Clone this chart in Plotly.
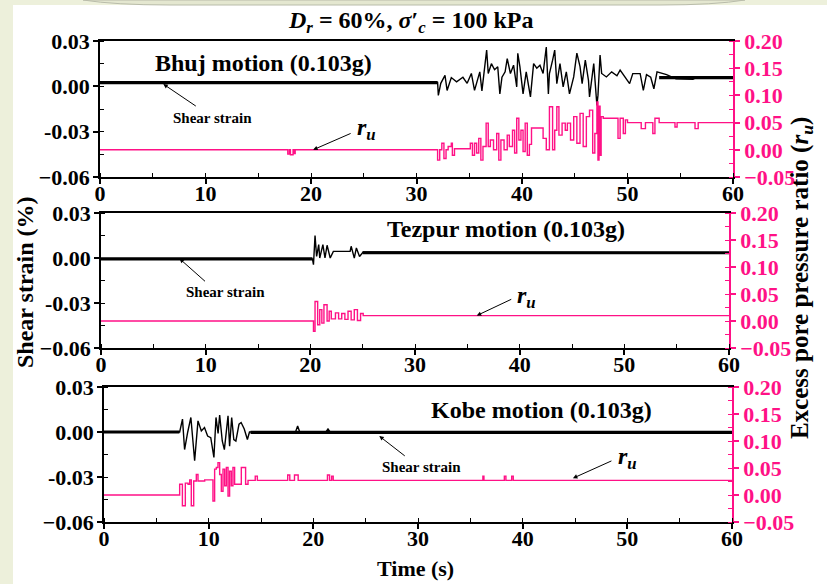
import plotly.graph_objects as go

# ---------------- data ----------------
# Bhuj motion: shear strain (%) and excess pore pressure ratio r_u vs time (s)
bhuj_strain_t = [0, 32.0, 32.07, 32.3, 32.7, 32.9, 33.3, 33.8, 34.4, 34.8, 35.2, 35.5, 36.0, 36.2,
                 36.65, 36.8, 37.1, 37.4, 37.7, 37.9, 38.1, 38.4, 38.6, 38.9, 39.2, 39.5, 39.6,
                 39.8, 40.1, 40.4, 40.8, 41.1, 41.4, 41.7, 42.0, 42.3, 42.5, 42.6, 42.9, 43.1,
                 43.3, 43.6, 43.9, 44.2, 44.5, 44.9, 45.2, 45.5, 45.7, 46.0, 46.3, 46.4, 46.8,
                 47.1, 47.2, 47.4, 47.55, 48.0, 48.5, 49.0, 49.3, 49.9, 50.2, 50.5, 51.2, 51.5,
                 51.8, 52.2, 52.5, 52.8, 53.7, 54.6, 56.2, 56.5, 60.0]
bhuj_strain_v = [0.0025, 0.0025, -0.006, 0.002, 0.0073, -0.0027, 0.0058, 0.003, 0.006, 0.002,
                 0.0085, -0.0027, 0.0096, -0.003, 0.024, 0.0085, 0.015, 0.011, 0.013, -0.005,
                 0.006, 0.0096, 0.0184, 0.0085, 0.014, -0.0004, 0.0218, 0.013, -0.005, 0.0096,
                 -0.007, 0.015, 0.012, 0.014, 0.0085, 0.026, -0.005, 0.0085, 0.0173, 0.024,
                 0.0018, 0.015, -0.0004, 0.0096, -0.005, 0.0062, 0.022, 0.013, 0.0018, 0.0173,
                 0.004, -0.007, 0.015, -0.0127, -0.006, 0.0207, 0.0085, 0.0062, 0.0096, 0.007,
                 0.0107, 0.005, 0.0018, 0.0084, 0.0084, -0.0027, 0.0078, 0.006, -0.0016, 0.0096,
                 0.0078, 0.005, 0.0047, 0.0058, 0.0058]
bhuj_quiet_t = [0, 32.0, None, 53.0, 60.0]
bhuj_quiet_v = [0.0025, 0.0025, None, 0.0058, 0.0058]

bhuj_ru_t = [0, 17.8, 17.95, 18.05, 18.3, 18.4, 18.5, 32.0, 32.2, 32.4, 32.6, 32.8, 33.0, 33.3,
             33.4, 33.6, 35.1, 35.3, 35.5, 35.7, 35.9, 36.1, 36.3, 36.6, 36.8, 37.0, 37.3, 37.6,
             37.8, 38.0, 38.3, 38.6, 38.8, 39.1, 39.3, 39.5, 39.7, 39.9, 40.1, 40.3, 40.5, 40.7,
             40.9, 42.0, 42.3, 42.6, 42.9, 43.1, 43.3, 43.5, 43.8, 44.1, 44.3, 44.6, 44.9, 45.2,
             45.5, 45.8, 46.1, 46.4, 46.7, 46.9, 47.1, 47.2, 47.3, 47.4, 47.5, 47.7, 49.1, 49.3,
             49.6, 49.8, 50.0, 51.3, 51.7, 52.4, 52.6, 53.0, 54.5, 54.7, 56.4, 56.7, 60.0]
bhuj_ru_v = [0.0, -0.008, 0.0, -0.009, 0.0, -0.007, 0.0, -0.019, 0.0, 0.012, -0.016, 0.0, 0.006,
             0.012, -0.01, 0.002, 0.012, -0.010, 0.012, -0.006, 0.021, -0.019, 0.006, 0.049,
             0.006, 0.018, 0.0, 0.030, -0.019, 0.018, 0.0, 0.027, 0.006, 0.036, -0.006, 0.058,
             0.018, 0.036, -0.003, 0.049, -0.01, 0.010, 0.040, 0.021, 0.0, 0.079, 0.0, 0.036,
             0.079, 0.027, 0.049, 0.036, 0.049, 0.018, 0.061, 0.012, 0.067, 0.006, 0.061, 0.073,
             -0.006, 0.030, 0.088, -0.019, 0.080, -0.01, 0.061, 0.058, 0.021, 0.058, 0.030,
             0.055, 0.05, 0.039, 0.05, 0.030, 0.058, 0.05, 0.042, 0.05, 0.039, 0.05, 0.05]

# Tezpur motion
tez_strain_t = [0, 20.2, 20.3, 20.45, 20.6, 20.8, 20.9, 21.2, 21.4, 21.6, 21.9, 22.2, 23.8, 23.9,
                24.2, 24.4, 24.7, 25.05, 60.0]
tez_strain_v = [-0.0006, -0.0006, -0.0045, 0.0149, 0.001, 0.0089, 0.0, 0.0089, 0.0, 0.0085, 0.0,
                0.0044, 0.0044, 0.0078, 0.0, 0.0067, 0.001, 0.004, 0.0035]
tez_quiet_t = [0, 20.2, None, 25.0, 60.0]
tez_quiet_v = [-0.0006, -0.0006, None, 0.0035, 0.0035]

tez_ru_t = [0, 20.3, 20.45, 20.7, 20.9, 21.1, 21.3, 21.6, 21.8, 22.0, 22.4, 22.7, 23.0, 23.3, 23.6,
            23.9, 24.2, 24.5, 24.8, 25.05, 60.0]
tez_ru_v = [0.0, -0.019, 0.036, -0.007, 0.021, -0.004, 0.030, 0.0, 0.018, 0.004, 0.015, 0.004,
            0.014, 0.003, 0.018, 0.002, 0.021, 0.001, 0.014, 0.010, 0.010]

# Kobe motion
kobe_strain_t = [0, 7.23, 7.5, 7.7, 8.0, 8.3, 8.66, 8.98, 9.3, 9.6, 9.9, 10.2, 10.5, 10.7, 10.9,
                 11.05, 11.3, 11.5, 11.85, 12.0, 12.2, 12.4, 12.6, 12.9, 13.1, 13.4, 13.7, 13.9,
                 18.3, 18.5, 18.7, 21.2, 21.4, 21.6, 60.0]
kobe_strain_v = [0.0, 0.0, 0.0086, -0.0117, 0.0, 0.0097, -0.0192, 0.0074, 0.0007, 0.003, -0.0027,
                 -0.0038, -0.0169, 0.0097, -0.001, 0.0113, -0.006, -0.0117, 0.0108, -0.0095,
                 0.0097, -0.005, -0.006, 0.0052, 0.0063, 0.002, -0.005, 0.0, 0.0, 0.004, 0.0,
                 0.0, 0.002, 0.0, -0.0003]
kobe_quiet_t = [0, 7.2, None, 14.0, 60.0]
kobe_quiet_v = [0.0, 0.0, None, -0.0003, -0.0003]

kobe_ru_t = [0, 7.23, 7.49, 7.77, 8.03, 8.19, 8.34, 8.57, 8.82, 8.98, 9.62, 10.41, 10.57, 10.73,
             10.89, 11.05, 11.21, 11.37, 11.53, 11.69, 11.85, 12.0, 12.16, 12.32, 12.48, 13.12,
             13.53, 13.76, 14.45, 14.65, 17.55, 17.75, 18.2, 18.55, 21.35, 21.55, 21.75, 21.9,
             36.2, 36.3, 38.25, 38.4, 38.95, 39.1, 60.0]
kobe_ru_v = [0.0, 0.020, -0.020, 0.022, 0.020, 0.028, -0.020, 0.026, 0.038, 0.026, 0.028, -0.011,
             0.048, 0.051, 0.060, 0.038, 0.007, 0.048, 0.017, 0.051, -0.002, 0.044, 0.017, 0.051,
             0.020, 0.051, 0.020, 0.027, 0.035, 0.027, 0.037, 0.027, 0.037, 0.027, 0.037, 0.027,
             0.035, 0.027, 0.035, 0.027, 0.035, 0.027, 0.035, 0.027, 0.027]

motion_names = ["Bhuj motion (0.103g)", "Tezpur motion (0.103g)", "Kobe motion (0.103g)"]
time_ticks = [0, 10, 20, 30, 40, 50, 60]
strain_ticks = [-0.06, -0.03, 0.0, 0.03]
strain_ticktext = ["\u22120.06", "-0.03", "0.00", "0.03"]
ru_ticks = [-0.05, 0.0, 0.05, 0.10, 0.15, 0.20]
ru_ticktext = ["\u22120.05", "0.00", "0.05", "0.10", "0.15", "0.20"]

# ---------------- styling ----------------
W, H = 827, 584
PINK = "#FF1186"
FONT = "Liberation Serif"
TICKFONT = dict(family=FONT, size=22, color="black")


def bold(labels):
    return [f"<b>{s}</b>" for s in labels]


# panel frames in pixels: (left, right, top, bottom)
frames = [(100, 733, 41, 177), (101, 729, 213, 348), (104, 732, 387, 522)]


def px_domain_x(a, b):
    return [a / W, b / W]


def px_domain_y(top, bottom):
    return [1 - bottom / H, 1 - top / H]


fig = go.Figure()
layout = dict(
    width=W, height=H, margin=dict(l=0, r=0, t=0, b=0, autoexpand=False),
    paper_bgcolor="white", plot_bgcolor="white", showlegend=False,
    font=dict(family=FONT, color="black"),
)

panels = [
    (bhuj_strain_t, bhuj_strain_v, bhuj_quiet_t, bhuj_quiet_v, bhuj_ru_t, bhuj_ru_v),
    (tez_strain_t, tez_strain_v, tez_quiet_t, tez_quiet_v, tez_ru_t, tez_ru_v),
    (kobe_strain_t, kobe_strain_v, kobe_quiet_t, kobe_quiet_v, kobe_ru_t, kobe_ru_v),
]

for i, (st, sv, qt, qv, rt, rv) in enumerate(panels):
    xn = "x" if i == 0 else f"x{i + 1}"
    yl = "y" if i == 0 else f"y{2 * i + 1}"
    yr = f"y{2 * i + 2}"
    left, right, top, bottom = frames[i]

    layout["xaxis" if i == 0 else f"xaxis{i + 1}"] = dict(
        domain=px_domain_x(left, right), anchor=yl, range=[0, 60], automargin=False,
        tickmode="array", tickvals=time_ticks, ticktext=bold([str(v) for v in time_ticks]),
        ticks="outside", ticklen=5, tickwidth=1.5, ticklabelstandoff=-9,
        tickcolor="black", showline=True, linecolor="black", linewidth=1.5, mirror=True,
        showgrid=False, zeroline=False, tickfont=TICKFONT,
        minor=dict(dtick=5, tick0=0, ticks="inside", ticklen=4, tickwidth=1.2, tickcolor="black"),
    )
    layout["yaxis" if i == 0 else f"yaxis{2 * i + 1}"] = dict(
        domain=px_domain_y(top, bottom), anchor=xn, range=[-0.06, 0.03], automargin=False,
        tickmode="array", tickvals=strain_ticks, ticktext=bold(strain_ticktext),
        ticks="outside", ticklen=5, tickwidth=1.5, tickcolor="black", ticklabelstandoff=-1,
        showline=True, linecolor="black", linewidth=1.5, showgrid=False, zeroline=False,
        tickfont=TICKFONT,
        minor=dict(dtick=0.015, tick0=0, ticks="inside", ticklen=4, tickwidth=1.2, tickcolor="black"),
    )
    layout[f"yaxis{2 * i + 2}"] = dict(
        overlaying=yl, anchor=xn, side="right", range=[-0.05, 0.20], automargin=False,
        tickmode="array", tickvals=ru_ticks, ticktext=bold(ru_ticktext),
        ticks="outside", ticklen=5, tickwidth=1.5, tickcolor=PINK, ticklabelstandoff=0,
        showline=True, linecolor=PINK, linewidth=1.5, showgrid=False, zeroline=False,
        tickfont=dict(family=FONT, size=22, color=PINK),
        minor=dict(dtick=0.025, tick0=0, ticks="inside", ticklen=4, tickwidth=1.2, tickcolor=PINK),
    )

    # quiet phases appear as a dense band of small fluctuations
    fig.add_trace(go.Scatter(x=qt, y=qv, xaxis=xn, yaxis=yl, mode="lines",
                             line=dict(color="black", width=3.2), hoverinfo="skip"))
    fig.add_trace(go.Scatter(x=st, y=sv, xaxis=xn, yaxis=yl, mode="lines",
                             line=dict(color="black", width=1.4), name="Shear strain"))
    fig.add_trace(go.Scatter(x=rt, y=rv, xaxis=xn, yaxis=yr, mode="lines",
                             line=dict(color=PINK, width=1.4, shape="hv"), name="r_u"))

# ---------------- annotations ----------------
ann = []
ann_spec = [
    dict(title=(15.5, 0.0153), stext=(10.7, -0.0207), shead=(6.0, 0.0015, 34, 23),
         rtext=(25.3, 0.038), rhead=(20.2, 0.0, 39, -17)),
    dict(title=(38.7, 0.0195), stext=(11.9, -0.0225), shead=(7.5, -0.0004, 27, 24),
         rtext=(40.7, 0.045), rhead=(35.9, 0.010, 36, -17)),
    dict(title=(41.8, 0.0149), stext=(30.3, -0.0236), shead=(26.3, -0.0027, 27, 21),
         rtext=(50.0, 0.069), rhead=(44.8, 0.031, 40, -18)),
]
for i, spec in enumerate(ann_spec):
    xn = "x" if i == 0 else f"x{i + 1}"
    yl = "y" if i == 0 else f"y{2 * i + 1}"
    yr = f"y{2 * i + 2}"
    ann.append(dict(x=spec["title"][0], y=spec["title"][1], xref=xn, yref=yl,
                    text=f"<b>{motion_names[i]}</b>", showarrow=False,
                    font=dict(family=FONT, size=24, color="black")))
    ann.append(dict(x=spec["stext"][0], y=spec["stext"][1], xref=xn, yref=yl,
                    text="<b>Shear strain</b>", showarrow=False,
                    font=dict(family=FONT, size=15, color="black")))
    hx, hy, ax, ay = spec["shead"]
    ann.append(dict(x=hx, y=hy, xref=xn, yref=yl, text="", showarrow=True, ax=ax, ay=ay,
                    arrowhead=2, arrowsize=0.9, arrowwidth=1, arrowcolor="black", standoff=0))
    ann.append(dict(x=spec["rtext"][0], y=spec["rtext"][1], xref=xn, yref=yr,
                    text="<b><i>r</i><sub><i>u</i></sub></b>", showarrow=False,
                    font=dict(family=FONT, size=24, color="black")))
    hx, hy, ax, ay = spec["rhead"]
    ann.append(dict(x=hx, y=hy, xref=xn, yref=yr, text="", showarrow=True, ax=ax, ay=ay,
                    arrowhead=2, arrowsize=0.9, arrowwidth=1, arrowcolor="black", standoff=0))

# overall heading and axis titles
centered = dict(xref="paper", yref="paper", showarrow=False, xanchor="center", yanchor="middle")
ann.append(dict(x=410 / W, y=1 - 22 / H, **centered,
                text="<b><i>D<sub>r</sub></i> = 60%, <i>\u03c3</i>\u2032<sub><i>c</i></sub> = 100 kPa</b>",
                font=dict(family=FONT, size=24, color="black")))
ann.append(dict(x=25 / W, y=1 - 282 / H, **centered,
                text="<b>Shear strain (%)</b>", textangle=-90,
                font=dict(family=FONT, size=24, color="black")))
ann.append(dict(x=801 / W, y=1 - 278 / H, **centered,
                text="<b>Excess pore pressure ratio (<i>r<sub>u</sub></i>)</b>", textangle=-90,
                font=dict(family=FONT, size=25, color="black")))
ann.append(dict(x=415 / W, y=1 - 568 / H, **centered,
                text="<b>Time (s)</b>", font=dict(family=FONT, size=22, color="black")))
layout["annotations"] = ann

# page trim: pale strips along the left and top edges
trim = "#EDF0DB"
layout["shapes"] = [
    dict(type="rect", xref="paper", yref="paper", x0=0, x1=13 / W, y0=0, y1=1,
         fillcolor=trim, line=dict(width=0), layer="below"),
    dict(type="rect", xref="paper", yref="paper", x0=0, x1=1, y0=1 - 5 / H, y1=1,
         fillcolor=trim, line=dict(width=0), layer="below"),
    dict(type="path", xref="paper", yref="paper",
         path=f"M {83 / W},1 Q {115 / W},{1 - 5 / H} {170 / W},{1 - 5 / H} "
              f"L {660 / W},{1 - 5 / H} Q {715 / W},{1 - 5 / H} {745 / W},1 Z",
         fillcolor="#E4E7D0", line=dict(color="#B9BCAA", width=1), layer="below"),
]

fig.update_layout(**layout)
fig.write_html("out.html")
